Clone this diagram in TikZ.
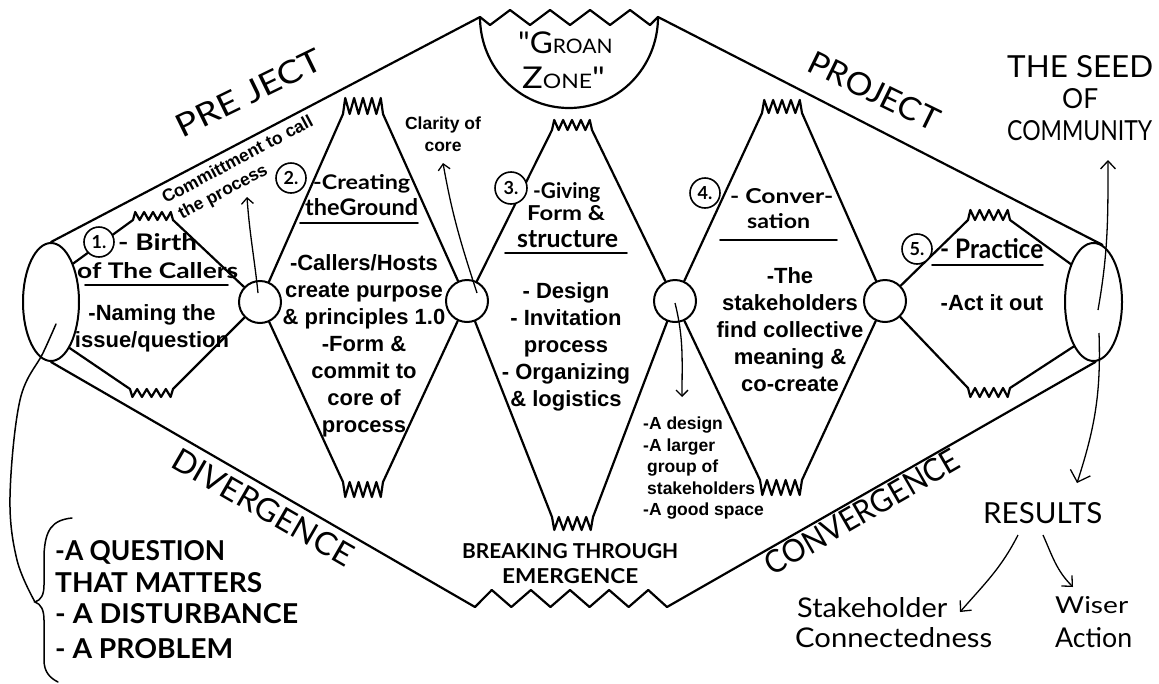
\documentclass[tikz,border=0pt]{standalone}
\usepackage{fontspec}
\setmainfont{Liberation Sans}
\newfontfamily\hand{Lato}
\usetikzlibrary{arrows.meta,shapes.geometric}

% zigzag vertices between x=#1 and x=#2 around y=#3, #4 vertices, signed amplitude #5
\newcommand\zig[5]{\foreach \k in {1,...,#4} { -- ({#1+(\k-0.5)*(#2-#1)/#4},{#3+(#5)*(2*mod(\k,2)-1)}) }}
% tooth rows: teeth pointing up (top) or down (bottom) from a base line
\newcommand\mtop[4]{-- (#1,#3) \zig{#1}{#2}{#3-#4}{9}{-#4} -- (#2,#3)}
\newcommand\mbot[4]{-- (#1,#3) \zig{#1}{#2}{#3+#4}{9}{#4} -- (#2,#3)}
% hand lettering set to a given width and height: [series]{width}{height}{text}
\newlength\hwd
\newlength\hht
\newcommand\hw[4][\bfseries]{%
  \settowidth\hwd{\hand#1\fontsize{10}{10}\selectfont #4}%
  \settoheight\hht{\hand#1\fontsize{10}{10}\selectfont #4}%
  \pgfmathsetmacro\hsz{10*#3/\hht}%
  \pgfmathsetmacro\hst{#2/(\hwd*\hsz/10)}%
  \edef\hfeat{\noexpand\addfontfeature{FakeStretch=\hst}}%
  {\hand#1\fontsize{\hsz}{\hsz}\selectfont\hfeat #4}}

\begin{document}
\begin{tikzpicture}[x=1pt,y=-1pt,
  ln/.style={line width=2.2pt, line join=round, line cap=round},
  thinln/.style={line width=1.5pt, line cap=round},
  hub/.style={circle, draw, line width=2pt, minimum size=42pt, inner sep=0pt},
  seedcase/.style={ellipse, draw, line width=2pt, minimum width=56pt, minimum height=118pt, inner sep=0pt},
  badge/.style={circle, draw, fill=white, line width=1.6pt, minimum size=30pt, inner sep=0pt,
                font=\hand\bfseries\fontsize{18}{18}\selectfont},
  hd/.style={inner sep=0pt, anchor=base west},
  hdc/.style={inner sep=0pt},
  blk/.style={inner sep=0pt, anchor=north, align=center, font=\fontsize{22}{27}\selectfont\bfseries},
  note/.style={inner sep=0pt, font=\fontsize{17.5}{21.5}\selectfont\bfseries},
  arr/.style={line width=1.3pt, -{Straight Barb[length=6pt,width=12pt]}},
  midarr/.style={line width=1.3pt, -{Straight Barb[length=8pt,width=15pt]}},
  bigarr/.style={line width=1.3pt, -{Straight Barb[length=10pt,width=21pt]}},
  uline/.style={line width=1.8pt, line cap=round},
]
\fill[white] (0,0) rectangle (1159,683);
\useasboundingbox (0,0) rectangle (1159,683);

% the two end caps and the four hubs
\node[seedcase] (eL) at (51,302) {};
\node[seedcase, minimum width=57pt] (eR) at (1093.5,302) {};
\node[hub] (c1) at (260,302) {};
\node[hub] (c2) at (467,301) {};
\node[hub] (c3) at (675,301) {};
\node[hub] (c4) at (885,301) {};

% outer frame with the groan zone on top and emergence at the bottom
\coordinate (gl) at (480,17);
\coordinate (gr) at (658,17);
\coordinate (gb) at (569,108);
\coordinate (bl) at (475,607);
\coordinate (br) at (667,607);
\draw[ln] (eL.north) -- (gl) \zig{480}{660}{17.5}{9}{7.5} -- (gr) -- (eR.81);
\draw[ln] (eL.south) -- (bl) \zig{482}{658}{598.5}{9}{-8.5} -- (br) -- (eR.-88);
\draw[ln] (gl) to[out=-90,in=180] (gb) to[out=0,in=-90] (gr);

% the five stages
\draw[ln] (eL.60)  \mtop{133}{173}{220}{4} -- (c1);
\draw[ln] (eL.-68) \mbot{130}{173}{389}{4} -- (c1);
\draw[ln] (c1) \mtop{343}{383}{114}{8} -- (c2);
\draw[ln] (c1) \mbot{343}{383}{482}{7.5} -- (c2);
\draw[ln] (c2) \mtop{552}{592}{130}{5} -- (c3);
\draw[ln] (c2) \mbot{552}{593}{517}{6.5} -- (c3);
\draw[ln] (c3) \mtop{762}{802}{113}{6.5} -- (c4);
\draw[ln] (c3) \mbot{760}{802}{480}{7.5} -- (c4);
\draw[ln] (c4) \mtop{968}{1010}{220}{5} -- (eR.121);
\draw[ln] (c4) \mbot{968}{1010}{388}{4.5} -- (eR.-114);

% stage numbers
\node[badge] (b1) at (99,242) {1.};
\node[badge] (b2) at (291,178) {2.};
\node[badge, minimum size=32pt] (b3) at (511,188) {3.};
\node[badge] (b4) at (705,193) {4.};
\node[badge] (b5) at (917,249) {5.};

% stage headings
\node[hd] (t1a) at (118,250) {\hw{79}{17}{- Birth}};
\node[hd] (t1b) at (77,278) {\hw{161}{16}{of The Callers}};
\node[hd] (t2a) at (313,189) {\hw{97}{15}{-Creating}};
\node[hd] (t2b) at (305,215) {\hw{113}{17}{theGround}};
\node[hd] (t3a) at (533,198) {\hw{67}{16}{-Giving}};
\node[hd] (t3b) at (527,220) {\hw{78}{15}{Form \&}};
\node[hd] (t3c) at (517,247) {\hw{101}{17}{structure}};
\node[hd] (t4a) at (730,203) {\hw{103}{15}{- Conver-}};
\node[hd] (t4b) at (747,228) {\hw{63}{15}{sation}};
\node[hd] (t5) at (940,258) {\hw{103}{20}{- Practice}};
\draw[uline] (85,285) -- (228,285);
\draw[uline] (300,223) -- (418,223);
\draw[uline] (505,253) -- (627,253);
\draw[uline] (720,240) -- (837,240);
\draw[uline] (932,265) -- (1043,265);

% stage contents
\node[blk] (k1) at (152,304) {-Naming the\\issue/question};
\node[blk] (k2) at (364,254) {-Callers/Hosts\\create purpose\\\& principles 1.0\\-Form \&\\commit to\\core of\\process};
\node[blk] (k3) at (566,282) {- Design\\- Invitation\\process\\- Organizing\\\& logistics};
\node[blk] (k4) at (790,267) {-The\\stakeholders\\find collective\\meaning \&\\co-create};
\node[blk] (k5) at (992,294) {-Act it out};

% outcomes of the hubs
\node[note, align=left, rotate=28] (commit) at (243,170) {Committment to call\\\hspace*{7pt}the process};
\node[note, align=center, anchor=north] (clar) at (443,117) {Clarity of\\core};
\node[note, align=left, anchor=north west] (gain) at (643,417) {-A design\\-A larger\\\hspace*{4pt}group of\\\hspace*{4pt}stakeholders\\-A good space};
\coordinate (a1s) at (258,293);
\coordinate (a1e) at (247,197);
\coordinate (a2s) at (477,293);
\coordinate (a2e) at (443,163);
\coordinate (a3s) at (675,303);
\coordinate (a3e) at (682,397);
\draw[arr] (a1s) to[out=96,in=-86] (a1e);
\draw[arr] (a2s) to[out=108,in=-80] (a2e);
\draw[arr] (a3s) to[out=-76,in=90] (a3e);

% phase labels
\node[hdc, rotate=26] (pre) at (249,93) {\hw[\mdseries]{159}{23}{PRE JECT}};
\node[hdc, rotate=-26] (proj) at (874,91) {\hw[\mdseries]{142}{23}{PROJECT}};
\node[hdc, rotate=-30] (div) at (263,507) {\hw[\mdseries]{203}{23}{DIVERGENCE}};
\node[hdc, rotate=30] (conv) at (862,512) {\hw[\mdseries]{219}{23}{CONVERGENCE}};
\node[hd] (gz1) at (518,53) {\hand\fontsize{30}{30}\selectfont\addfontfeature{FakeStretch=1.05}"G\fontsize{20}{20}\selectfont ROAN};
\node[hd] (gz2) at (522,88) {\hand\fontsize{30}{30}\selectfont\addfontfeature{FakeStretch=1.15}Z\fontsize{20}{20}\selectfont ONE\fontsize{30}{30}\selectfont"};
\node[hd] (bt1) at (462,558) {\hw{216}{15}{BREAKING THROUGH}};
\node[hd] (bt2) at (502,583) {\hw{136}{15}{EMERGENCE}};

% the seed of community and its results
\node[hd] (s1) at (1007,77) {\hw[\mdseries]{146}{22}{THE SEED}};
\node[hd] (s2) at (1062,108) {\hw[\mdseries]{36}{20}{OF}};
\node[hd] (s3) at (1007,140) {\hw[\mdseries]{145}{20}{COMMUNITY}};
\node[hd] (res) at (983,523) {\hw[\mdseries]{119}{21}{RESULTS}};
\node[hd] (sc1) at (797,617) {\hw[\mdseries]{150}{20}{Stakeholder}};
\node[hd] (sc2) at (795,647) {\hw[\mdseries]{197}{20}{Connectedness}};
\node[hd] (wa1) at (1055,613) {\hw[\mdseries]{73}{17}{Wiser}};
\node[hd] (wa2) at (1055,647) {\hw[\mdseries]{77}{20}{Action}};
\coordinate (upS) at (1098,310);
\coordinate (upE) at (1108,160);
\coordinate (dnS) at (1099,333);
\coordinate (dnE) at (1077,483);
\coordinate (r1s) at (1018,535);
\coordinate (r1e) at (960,612);
\coordinate (r2s) at (1043,535);
\coordinate (r2e) at (1073,587);
\draw[midarr] (upS) to[out=80,in=-90] (upE);
\draw[bigarr] (dnS) to[out=-88,in=72] (dnE);
\draw[midarr] (r1s) to[out=-117,in=49] (r1e);
\draw[midarr] (r2s) to[out=-66,in=135] (r2e);

% what starts the process
\node[hd] (q1) at (55,560) {\hw{170}{20}{-A QUESTION}};
\node[hd] (q2) at (55,592) {\hw{207}{20}{THAT MATTERS}};
\node[hd] (q3) at (55,623) {\hw{243}{20}{- A DISTURBANCE}};
\node[hd] (q4) at (55,658) {\hw{178}{20}{- A PROBLEM}};
\coordinate (tip) at (35,602);
\draw[thinln] plot[smooth, tension=0.6] coordinates {(56,324) (43,353) (20,400) (10,497) (17,560) (35,602)};
\draw[thinln] (72,518) .. controls (52,520) and (45,530) .. (44,555) -- (44,585)
  .. controls (44,595) and (41,600) .. (tip) .. controls (41,604) and (44,610) .. (44,620)
  -- (44,660) .. controls (44,672) and (50,678) .. (58,682);
\end{tikzpicture}
\end{document}
